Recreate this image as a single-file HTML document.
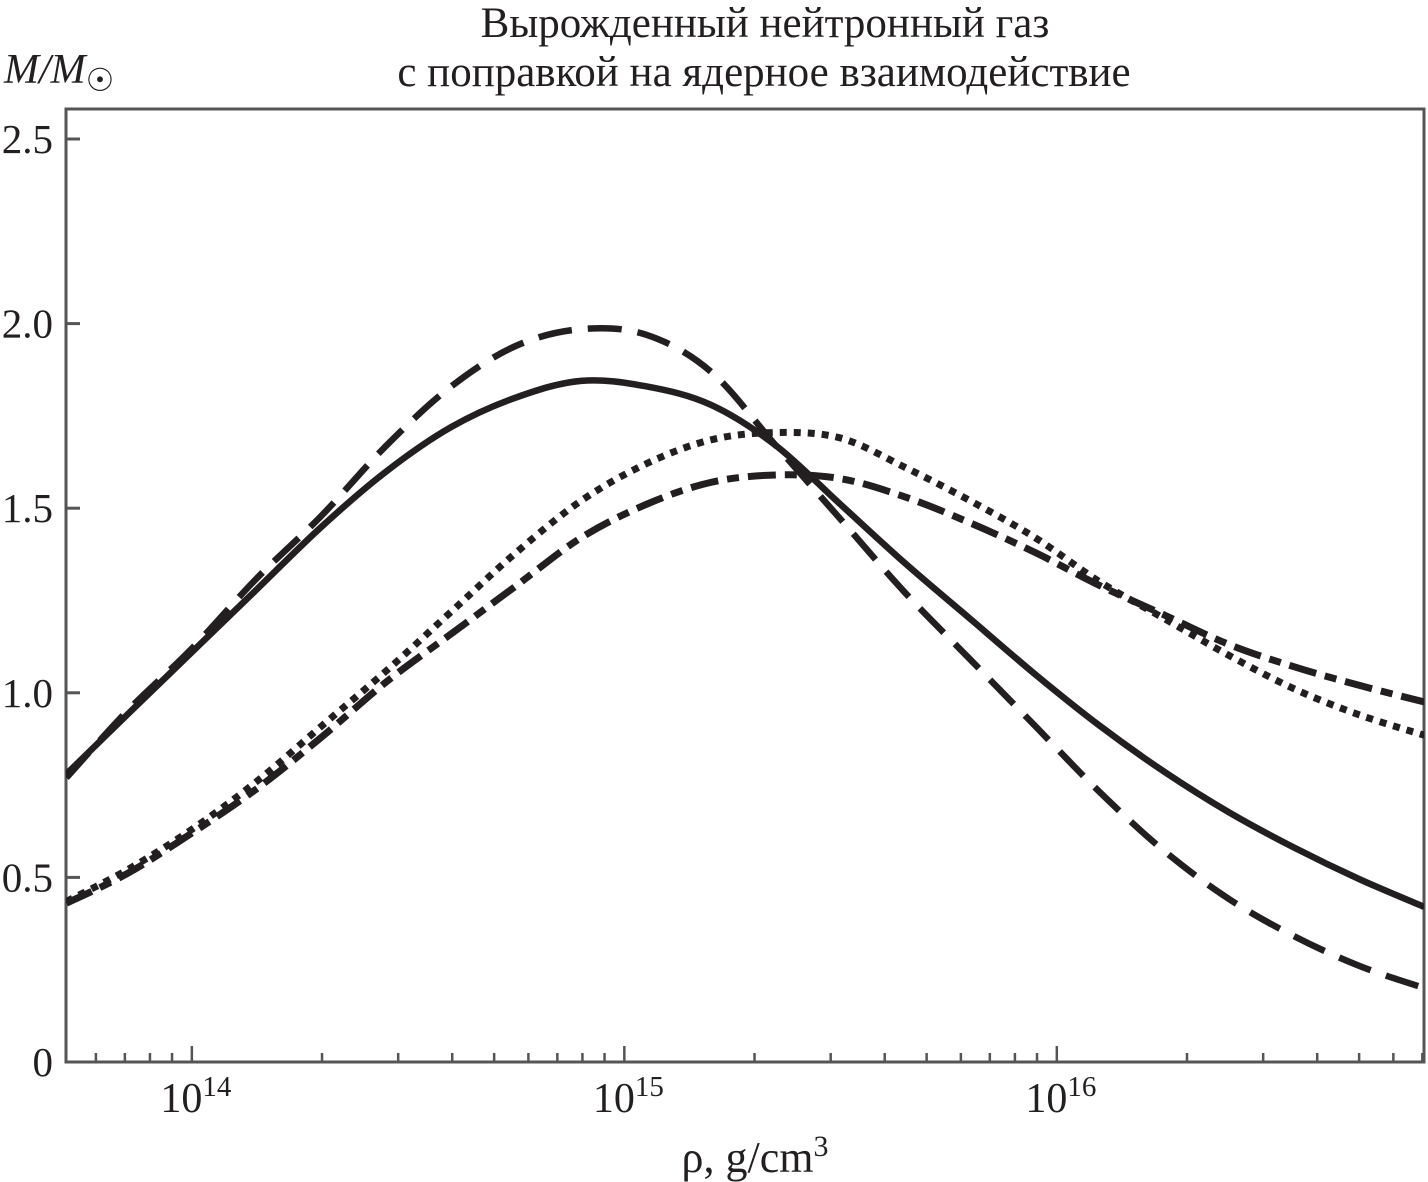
<!DOCTYPE html>
<html><head><meta charset="utf-8"><style>
html,body{margin:0;padding:0;background:#fff;}
svg{display:block;font-family:"Liberation Serif","DejaVu Serif",serif;}
</style></head><body>
<svg id="chart" width="1428" height="1182" viewBox="0 0 1428 1182" xmlns="http://www.w3.org/2000/svg">
<text x="765" y="37" font-size="43" text-anchor="middle" fill="#231f20">Вырожденный нейтронный газ</text>
<text x="764" y="86" font-size="43" text-anchor="middle" fill="#231f20">с поправкой на ядерное взаимодействие</text>
<text x="4" y="83" font-size="42" font-style="italic" fill="#231f20">M/M<tspan font-style="normal" font-size="32" dy="8">☉</tspan></text>
<text x="755" y="1172" font-size="44" text-anchor="middle" fill="#231f20">ρ, g/cm<tspan font-size="30" dy="-16">3</tspan></text>
<g id="axes"></g>
<g id="series"></g>
</svg>
<script>
const logRho = [13.71,13.85,14.0,14.15,14.3,14.45,14.6,14.75,14.9,15.05,15.2,15.35,15.5,15.65,15.8,15.95,16.1,16.25,16.4,16.55,16.7,16.85];
const solidM = [0.78,0.94,1.11,1.28,1.45,1.60,1.72,1.80,1.845,1.83,1.78,1.67,1.51,1.35,1.20,1.05,0.91,0.785,0.675,0.58,0.495,0.42];
const dashedM = [0.77,0.95,1.12,1.31,1.48,1.67,1.83,1.94,1.985,1.97,1.87,1.67,1.47,1.27,1.09,0.91,0.73,0.57,0.44,0.34,0.26,0.20];
const dottedM = [0.435,0.52,0.63,0.76,0.91,1.06,1.22,1.38,1.52,1.62,1.685,1.705,1.69,1.61,1.52,1.42,1.30,1.20,1.10,1.01,0.94,0.885];
const dashDotM = [0.43,0.51,0.62,0.74,0.88,1.03,1.16,1.29,1.42,1.51,1.57,1.59,1.58,1.53,1.46,1.38,1.29,1.21,1.13,1.07,1.02,0.975];
const yTicks = [0,0.5,1.0,1.5,2.0,2.5];
const yTickLabels = ["0","0.5","1.0","1.5","2.0","2.5"];
const xDecades = [14,15,16];

const NS="http://www.w3.org/2000/svg";
const L=66,R=1424,T=109,B=1062;
const xMin=13.709,xMax=16.849,yMin=0,yMax=2.5;
const yPx0=1062,yPx25=139;
function sx(l){return L+(l-xMin)/(xMax-xMin)*(R-L);}
function sy(m){return yPx0+(m-yMin)/(yMax-yMin)*(yPx25-yPx0);}
function mk(tag,attrs,parent){const e=document.createElementNS(NS,tag);for(const k in attrs)e.setAttribute(k,attrs[k]);parent.appendChild(e);return e;}
const axes=document.getElementById('axes');
const frame=mk('rect',{x:L,y:T,width:R-L,height:B-T,fill:'none',stroke:'#555',"stroke-width":3},axes);


yTicks.forEach((v,i)=>{
  const t=mk('line',{x1:L,x2:L+14,y1:sy(v),y2:sy(v),stroke:'#555',"stroke-width":3},axes);
  
  
  const tx=mk('text',{x:53,y:sy(v)+14,"font-size":41,"text-anchor":"end",fill:'#231f20'},axes);
  tx.textContent=yTickLabels[i];
  
  
});
for(let d=13;d<=16;d++){
  for(let k=1;k<=9;k++){
    const l=d+Math.log10(k);
    if(l<xMin||l>xMax)continue;
    const major=(k===1);
    const t=mk('line',{x1:sx(l),x2:sx(l),y1:B,y2:B-(major?16:9),stroke:'#555',"stroke-width":2.5},axes);
    
    
  }
}
xDecades.forEach(d=>{
  const tx=mk('text',{x:sx(d)+4,y:1112,"font-size":42,"text-anchor":"middle",fill:'#231f20'},axes);
  tx.innerHTML='10<tspan font-size="29" dy="-16">'+d+'</tspan>';
  
  
});
function pathFor(vals){
  const p=logRho.map((l,i)=>[sx(l),sy(vals[i])]);
  let d='M'+p[0][0]+','+p[0][1];
  for(let i=0;i<p.length-1;i++){
    const p0=p[Math.max(0,i-1)],p1=p[i],p2=p[i+1],p3=p[Math.min(p.length-1,i+2)];
    const c1=[p1[0]+(p2[0]-p0[0])/6,p1[1]+(p2[1]-p0[1])/6];
    const c2=[p2[0]-(p3[0]-p1[0])/6,p2[1]-(p3[1]-p1[1])/6];
    d+=' C'+c1[0]+','+c1[1]+' '+c2[0]+','+c2[1]+' '+p2[0]+','+p2[1];
  }
  return d;
}
const ser=document.getElementById('series');
const clip=mk('clipPath',{id:'pc'},ser);
mk('rect',{x:L,y:T,width:R-L,height:B-T},clip);
const s1=mk('path',{d:pathFor(solidM),fill:'none',stroke:'#231f20',"stroke-width":6.5,"clip-path":"url(#pc)"},ser);


const s2=mk('path',{d:pathFor(dashedM),fill:'none',stroke:'#231f20',"stroke-width":6.5,"stroke-dasharray":"34 16","clip-path":"url(#pc)"},ser);


const s3=mk('path',{d:pathFor(dottedM),fill:'none',stroke:'#231f20',"stroke-width":7,"stroke-dasharray":"7 7","clip-path":"url(#pc)"},ser);


const s4=mk('path',{d:pathFor(dashDotM),fill:'none',stroke:'#231f20',"stroke-width":7,"stroke-dasharray":"28 9 12 9","clip-path":"url(#pc)"},ser);


</script>
</body></html>
